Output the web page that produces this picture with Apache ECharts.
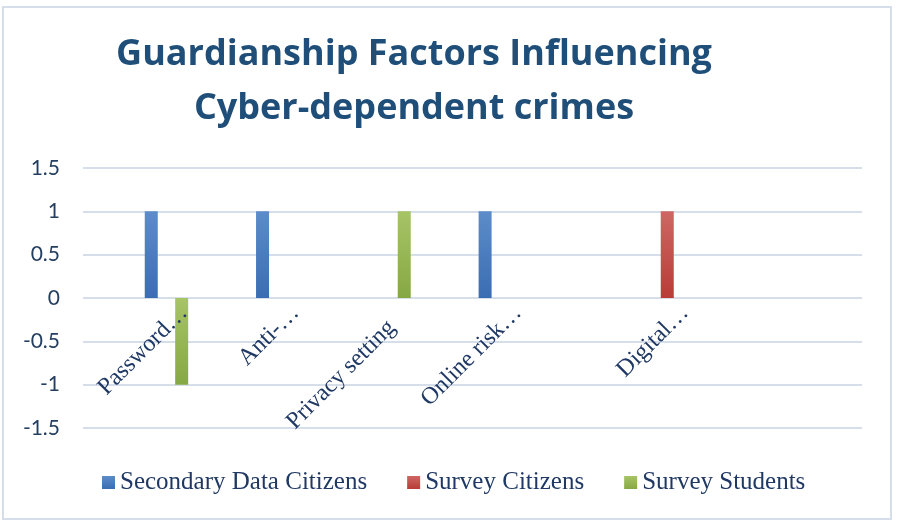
<!DOCTYPE html>
<html>
<head>
<meta charset="utf-8">
<script src="https://cdn.jsdelivr.net/npm/echarts@6/dist/echarts.min.js"></script>
<style>
  html, body { margin: 0; padding: 0; background: #fff; }
  #chart { width: 897px; height: 525px; }
</style>
</head>
<body>
<div id="chart"></div>
<script>
// categories (blank ones are rows with no label in the source sheet)
var categories = ['', 'Password\u2026', '', 'Anti-\u2026', '', 'Privacy setting', '', 'Online risk\u2026', '', '', 'Digital\u2026', '', '', ''];
var secondaryCitizens = [null, 1, null, 1, null, null, null, 1, null, null, null, null, null, null];
var surveyCitizens = [null, null, null, null, null, null, null, null, null, null, 1, null, null, null];
var surveyStudents = [null, -1, null, null, null, 1, null, null, null, null, null, null, null, null];
var yTicks = { min: -1.5, max: 1.5, interval: 0.5 };

function grad(top, bottom) {
  return new echarts.graphic.LinearGradient(0, 0, 0, 1, [
    { offset: 0, color: top },
    { offset: 1, color: bottom }
  ]);
}

var navy = '#1F3864';
var chart = echarts.init(document.getElementById('chart'));

// the untruncated label sits a bit lower along its slant, as in the original
var xLabels = categories.map(function (c) {
  if (c === 'Privacy setting') {
    return { value: c, textStyle: { padding: [0, -4, 0, 0] } };
  }
  return c;
});

var option = {
  animation: false,
  title: {
    text: 'Guardianship Factors Influencing\nCyber-dependent crimes',
    left: 409,
    top: 23,
    textAlign: 'center',
    textStyle: {
      fontFamily: 'Open Sans',
      fontWeight: 'bold',
      fontSize: 36,
      lineHeight: 54,
      color: '#1F4E79'
    }
  },
  graphic: [{
    type: 'rect',
    shape: { x: 3, y: 7, width: 888, height: 512 },
    style: { fill: 'none', stroke: '#D6DEEA', lineWidth: 2 },
    silent: true
  }],
  legend: {
    bottom: 25,
    left: 97,
    itemWidth: 13,
    itemHeight: 13,
    itemGap: 40,
    icon: 'rect',
    textStyle: { fontFamily: 'Liberation Serif', fontSize: 25, color: navy },
    data: ['Secondary Data Citizens', 'Survey Citizens', 'Survey Students']
  },
  grid: { left: 83, right: 35, top: 168, bottom: 97, containLabel: false, outerBoundsMode: 'none' },
  xAxis: {
    type: 'category',
    data: xLabels,
    offset: -130, // axis sits on the zero line
    z: 5,
    axisLine: { onZero: false, show: false },
    axisTick: { show: false },
    axisLabel: {
      interval: 0,
      rotate: 45,
      margin: 29,
      padding: [0, -25, 0, 0],
      fontFamily: 'Liberation Serif',
      fontSize: 24,
      color: navy
    }
  },
  yAxis: {
    type: 'value',
    min: yTicks.min,
    max: yTicks.max,
    interval: yTicks.interval,
    axisLine: { show: false },
    axisTick: { show: false },
    axisLabel: {
      margin: 23,
      fontFamily: 'Lato',
      fontSize: 21,
      color: '#243F60'
    },
    splitLine: { lineStyle: { color: '#D6DEEA', width: 2 } }
  },
  series: [{
    name: 'Secondary Data Citizens',
    type: 'bar',
    data: secondaryCitizens,
    barWidth: 13,
    barGap: '17%',
    itemStyle: { color: grad('#5C8CC9', '#3A6DB2') }
  }, {
    name: 'Survey Citizens',
    type: 'bar',
    data: surveyCitizens,
    barWidth: 13,
    barGap: '17%',
    itemStyle: { color: grad('#CD6763', '#B93C38') }
  }, {
    name: 'Survey Students',
    type: 'bar',
    data: surveyStudents,
    barWidth: 13,
    barGap: '17%',
    itemStyle: { color: grad('#A7C466', '#86A843') }
  }]
};

chart.setOption(option);
</script>
</body>
</html>
